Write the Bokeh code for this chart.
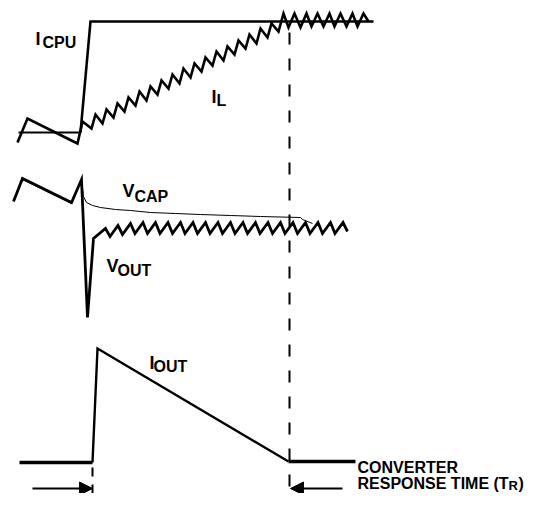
from bokeh.plotting import figure
from bokeh.models import Range1d, ColumnDataSource, Arrow, NormalHead
from bokeh.core.properties import value
from bokeh.embed import file_html
from bokeh.resources import INLINE

# ---- waveform data (time on x, level on y; y grows downward) ----
icpu_x = [18, 80, 90, 373]
icpu_y = [132, 132, 21, 21]

il_x = [17, 27, 77, 82, 91, 95, 102, 106, 113, 117, 124, 128, 135, 139,
        146, 150, 157, 161, 168, 172, 179, 183, 190, 194,
        201, 205, 212, 216, 223, 227, 234, 238, 245, 249,
        256, 260, 267, 271, 278, 283,
        288, 294, 300, 306, 311, 317, 323, 329, 334, 340,
        346, 352, 357, 363, 368]
il_y = [142, 118, 143, 121, 128, 114, 123, 109, 117, 103, 111, 97, 105, 91,
        100, 86, 94, 80, 88, 74, 83, 68, 77, 63,
        71, 57, 65, 51, 60, 46, 54, 40, 48, 34,
        43, 28, 37, 23, 31, 13,
        27, 13, 27, 13, 26, 13, 26, 13, 26, 13,
        26, 13, 26, 13, 21]

vout_x = [13, 22, 71, 81, 87, 93,
          105, 109.5, 117.5, 122, 130, 134.5, 142.5, 147, 155, 159.5,
          167.5, 172, 180, 184.5, 192.5, 197, 205, 209.5, 217.5, 222,
          230, 234.5, 242.5, 247, 255, 259.5, 267.5, 272, 280, 284.5,
          292.5, 297, 305, 309.5, 317.5, 322, 330, 334.5, 342.5, 347]
vout_y = [201, 178, 202, 179, 317, 238,
          228, 236, 225, 234, 223, 233, 222, 233, 222, 233,
          222, 233, 222, 233, 222, 233, 222, 233, 222, 233,
          222, 233, 222, 233, 222, 233, 222, 233, 222, 233,
          222, 233, 222, 233, 222, 233, 222, 233, 222, 231]

vcap_x = [22, 71, 81, 83, 86, 92, 100, 115, 130, 150, 175, 200, 230, 260, 300, 302, 312]
vcap_y = [179, 203, 179, 196, 202, 205, 207, 209, 210, 212, 213, 214, 215, 216, 217, 219, 223]

iout_x = [19, 92, 97, 288, 355]
iout_y = [462, 462, 348, 461, 461]

# response time markers
marker_x = [92, 289]
marker_top = [467, 32]
marker_bottom = [493, 493]
marker_dash = ["9 8", "12 14"]

arrow_x0 = [32, 342]
arrow_x1 = [92, 290]
arrow_y = [488, 488]

# labels
label_main = ["I", "I", "V", "V", "I"]
label_main_x = [35, 211, 122, 106, 149]
label_main_y = [38, 96, 190, 265, 362]
label_sub = ["CPU", "L", "CAP", "OUT", "OUT"]
label_sub_x = [42, 216, 134, 117, 153]
label_sub_y = [42, 100, 196, 270, 366]

note_text = ["CONVERTER", "RESPONSE TIME (T", ")"]
note_x = [357, 357, 518]
note_y = [467, 483, 483]
note_sub = ["R"]
note_sub_x = [508]
note_sub_y = [485]

FONT = value("Liberation Sans")

p = figure(width=540, height=493, x_range=Range1d(0, 540), y_range=Range1d(493, 0),
           output_backend="svg", toolbar_location=None,
           x_axis_location=None, y_axis_location=None,
           min_border=0, outline_line_color=None)
p.xgrid.visible = False
p.ygrid.visible = False
p.background_fill_color = "white"
p.border_fill_color = "white"

# dashed markers
for i in range(len(marker_x)):
    p.segment(x0=[marker_x[i]], y0=[marker_top[i]], x1=[marker_x[i]], y1=[marker_bottom[i]],
              line_color="black", line_width=2, line_dash=marker_dash[i])

# I_CPU
p.line(icpu_x[:2], icpu_y[:2], line_color="black", line_width=2)
p.line(icpu_x[1:], icpu_y[1:], line_color="black", line_width=2.6, line_join="miter")

# I_L
p.line(il_x, il_y, line_color="black", line_width=2.6, line_join="miter")

# V_CAP (thin) and V_OUT (thick)
p.line(vcap_x, vcap_y, line_color="black", line_width=1)
p.line(vout_x, vout_y, line_color="black", line_width=2.8, line_join="miter")

# I_OUT
p.line(iout_x[1:4], iout_y[1:4], line_color="black", line_width=2.4, line_join="miter")
p.line(iout_x[:2], iout_y[:2], line_color="black", line_width=3.5)
p.line(iout_x[3:], iout_y[3:], line_color="black", line_width=3.5)

# arrows
arrow_src = ColumnDataSource(dict(x0=arrow_x0, x1=arrow_x1, y=arrow_y))
p.add_layout(Arrow(end=NormalHead(size=13, fill_color="black", line_color="black", line_width=1),
                   x_start="x0", y_start="y", x_end="x1", y_end="y",
                   line_color="black", line_width=2, source=arrow_src))

# labels
p.text(x=label_main_x, y=label_main_y, text=label_main, text_font=FONT,
       text_font_style="bold", text_font_size="18px", text_color="black",
       text_align="left", text_baseline="alphabetic")
p.text(x=label_sub_x, y=label_sub_y, text=label_sub, text_font=FONT,
       text_font_style="bold", text_font_size="16px", text_color="black",
       text_align="left", text_baseline="alphabetic")
p.text(x=note_x, y=note_y, text=note_text, text_font=FONT,
       text_font_style="bold", text_font_size="16px", text_color="black",
       text_align="left", text_baseline="alphabetic")
p.text(x=note_sub_x, y=note_sub_y, text=note_sub, text_font=FONT,
       text_font_style="bold", text_font_size="13px", text_color="black",
       text_align="left", text_baseline="alphabetic")

open("out.html", "w").write(file_html(p, INLINE))
